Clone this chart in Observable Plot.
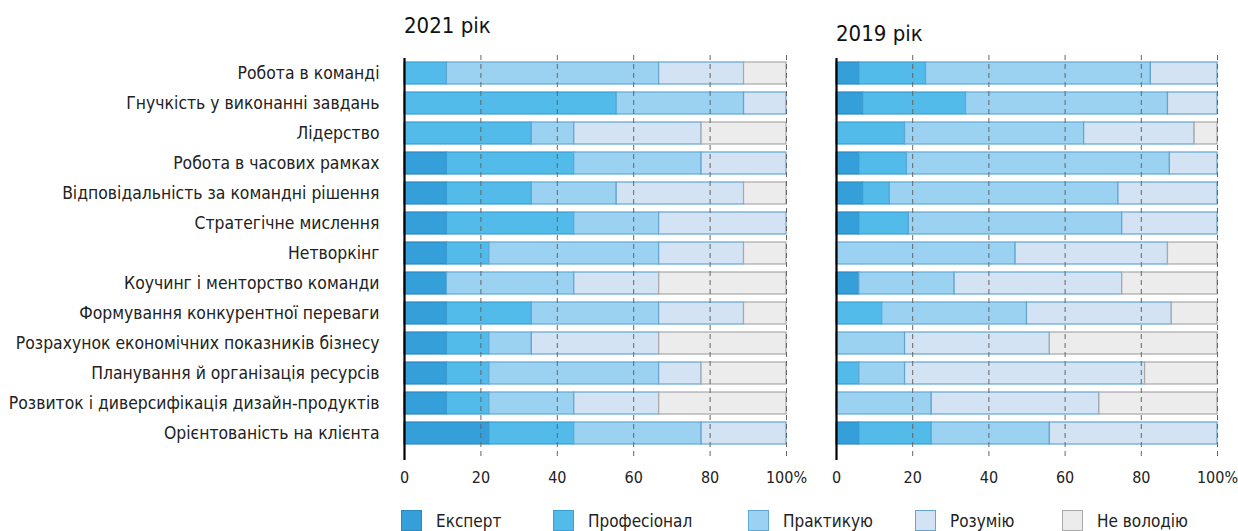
<!DOCTYPE html>
<html>
<head>
<meta charset="utf-8">
<script src="https://cdn.jsdelivr.net/npm/d3@7"></script>
<script src="https://cdn.jsdelivr.net/npm/@observablehq/plot@0.6"></script>
<style>
  body { margin: 0; background: #fff; }
  #wrap { position: relative; width: 1238px; height: 531px; overflow: hidden;
          font-family: "DejaVu Sans Condensed", "DejaVu Sans", sans-serif; color: #222; }
  .title { position: absolute; font-size: 22px; line-height: 22px; color: #111; white-space: nowrap; }
  .plot { position: absolute; top: 45px; }
  .leg { position: absolute; top: 510px; height: 21px; display: flex; align-items: center; font-size: 17px; white-space: nowrap; }
  .sw { width: 19px; height: 19px; border: 1px solid; margin-right: 14px; }
  #p1 g[aria-label="y-axis tick label"] { font-size: 17.4px; }
</style>
</head>
<body>
<div id="wrap">
  <div class="title" id="t1" style="left:404px; top:15px;"></div>
  <div class="title" id="t2" style="left:836px; top:23px;"></div>
  <div class="plot" id="p1" style="left:0px;"></div>
  <div class="plot" id="p2" style="left:800px;"></div>
  <div id="legend"></div>
</div>
<script>
// ---------- data ----------
const titles = ["2021 рік", "2019 рік"];
const skills = [
  "Робота в команді",
  "Гнучкість у виконанні завдань",
  "Лідерство",
  "Робота в часових рамках",
  "Відповідальність за командні рішення",
  "Стратегічне мислення",
  "Нетворкінг",
  "Коучинг і менторство команди",
  "Формування конкурентної переваги",
  "Розрахунок економічних показників бізнесу",
  "Планування й організація ресурсів",
  "Розвиток і диверсифікація дизайн-продуктів",
  "Орієнтованість на клієнта"
];
const levels = ["Експерт", "Професіонал", "Практикую", "Розумію", "Не володію"];

// 2021 (% of respondents)
const expert2021     = [0, 0, 0, 11.11, 11.11, 11.11, 11.11, 11.11, 11.11, 11.11, 11.11, 11.11, 22.22];
const prof2021       = [11.11, 55.56, 33.33, 33.33, 22.22, 33.33, 11.11, 0, 22.22, 11.11, 11.11, 11.11, 22.22];
const practice2021   = [55.56, 33.33, 11.11, 33.33, 22.22, 22.22, 44.44, 33.33, 33.33, 11.11, 44.44, 22.22, 33.34];
const understand2021 = [22.22, 11.11, 33.34, 22.23, 33.34, 33.34, 22.22, 22.23, 22.22, 33.34, 11.11, 22.23, 22.22];
const none2021       = [11.11, 0, 22.22, 0, 11.11, 0, 11.11, 33.33, 11.11, 33.33, 22.23, 33.33, 0];

// 2019 (% of respondents)
const expert2019     = [6, 7, 0, 6, 7, 6, 0, 6, 0, 0, 0, 0, 6];
const prof2019       = [17.5, 27, 18, 12.5, 7, 13, 0, 0, 12, 0, 6, 0, 19];
const practice2019   = [59, 53, 47, 69, 60, 56, 47, 25, 38, 18, 12, 25, 31];
const understand2019 = [17.5, 13, 29, 12.5, 26, 25, 40, 44, 38, 38, 63, 44, 44];
const none2019       = [0, 0, 6, 0, 0, 0, 13, 25, 12, 44, 19, 31, 0];

const xTicks = [0, 20, 40, 60, 80, 100];

// ---------- styles ----------
const fills   = ["#359fd9", "#52bbea", "#9bd2f1", "#d3e3f4", "#ececec"];
const strokes = ["#2a88c2", "#3b9fd3", "#5fa8d4", "#64a5d0", "#a9a9a9"];
const legendX = [401, 553, 748, 915, 1062];

function stackRows(series) {
  const rows = [];
  skills.forEach((s, i) => {
    let acc = 0;
    levels.forEach((lv, k) => {
      const v = series[k][i];
      rows.push({ skill: s, level: lv, k, x1: acc, x2: acc + v });
      acc += v;
    });
  });
  return rows;
}

function makePlot(series, opts) {
  const rows = stackRows(series);
  const marks = levels.map((lv, k) =>
    Plot.barX(rows.filter(d => d.k === k && d.x2 - d.x1 > 0.01), {
      x1: "x1", x2: "x2", y: "skill",
      fill: fills[k], stroke: strokes[k], strokeWidth: 1.2
    })
  );
  marks.push(Plot.ruleX(xTicks.filter(t => t > 0), {
    stroke: "#666", strokeWidth: 1, strokeDasharray: "5,4", insetTop: 3, insetBottom: -6
  }));
  marks.push(Plot.ruleX([0], { stroke: "#000", strokeWidth: 2.2, insetTop: 6, insetBottom: -6 }));
  return Plot.plot({
    width: opts.width,
    height: 445,
    marginLeft: opts.marginLeft,
    marginRight: opts.marginRight,
    marginTop: 7,
    marginBottom: 36,
    style: { fontFamily: '"DejaVu Sans Condensed", "DejaVu Sans", sans-serif', fontSize: "16px", color: "#222", background: "transparent", overflow: "visible" },
    x: { domain: [0, 100], ticks: xTicks, tickFormat: d => d === 100 ? "100%" : String(d), tickSize: 0, tickPadding: 17, label: null },
    y: opts.showY
      ? { domain: skills, padding: 0.275, tickSize: 0, tickPadding: 25, label: null }
      : { domain: skills, padding: 0.275, axis: null },
    marks
  });
}

document.getElementById("t1").textContent = titles[0];
document.getElementById("t2").textContent = titles[1];

document.getElementById("p1").appendChild(makePlot(
  [expert2021, prof2021, practice2021, understand2021, none2021],
  { width: 800, marginLeft: 404, marginRight: 14, showY: true }
));
document.getElementById("p2").appendChild(makePlot(
  [expert2019, prof2019, practice2019, understand2019, none2019],
  { width: 438, marginLeft: 36, marginRight: 21, showY: false }
));

const legend = document.getElementById("legend");
levels.forEach((lv, k) => {
  const item = document.createElement("div");
  item.className = "leg";
  item.style.left = legendX[k] + "px";
  const sw = document.createElement("div");
  sw.className = "sw";
  sw.style.background = fills[k];
  sw.style.borderColor = strokes[k];
  const tx = document.createElement("span");
  tx.textContent = lv;
  item.appendChild(sw);
  item.appendChild(tx);
  legend.appendChild(item);
});
</script>
</body>
</html>
